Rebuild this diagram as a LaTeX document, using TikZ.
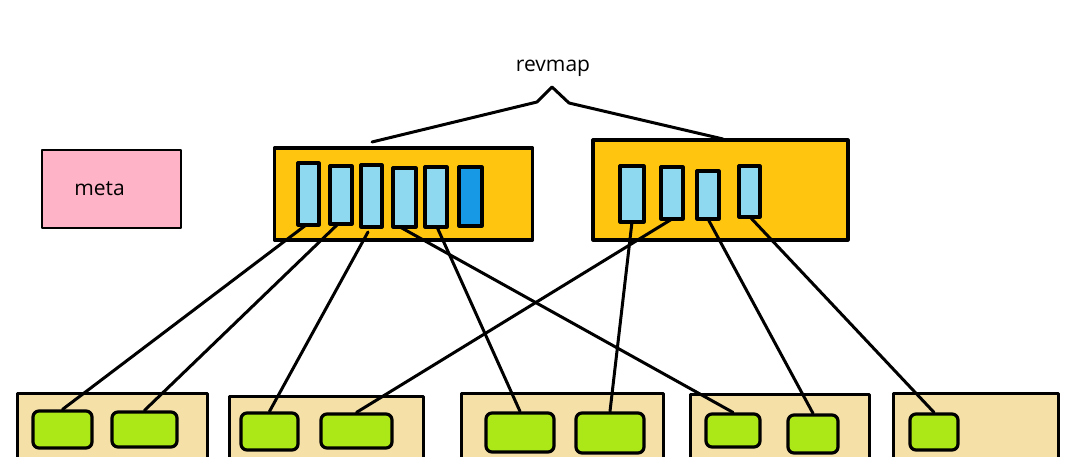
\documentclass[tikz,border=0pt]{standalone}
\usepackage{fontspec}
\setmainfont{Open Sans}
\definecolor{cgold}{HTML}{FFC50F}
\definecolor{cpink}{HTML}{FFB3C6}
\definecolor{cbeige}{HTML}{F5E1A8}
\definecolor{cleaf}{HTML}{ACE817}
\definecolor{cslot}{HTML}{8ED8F0}
\definecolor{cdark}{HTML}{1899E6}
\begin{document}
\begin{tikzpicture}[x=1pt,y=-1pt,line join=round,line cap=round,
 orange/.style={draw=black,fill=cgold,line width=3.2pt},
 slot/.style={draw=black,fill=cslot,line width=3.2pt},
 page/.style={draw=black,fill=cbeige,line width=3pt},
 leaf/.style={draw=black,fill=cleaf,line width=3.2pt,rounded corners=6pt},
 conn/.style={line width=3pt}]
\useasboundingbox (0,0) rectangle (1088,457);
\fill[white] (0,0) rectangle (1088,457);
\node[draw=black,fill=cpink,line width=2.8pt,minimum width=139pt,minimum height=78pt,inner sep=0pt] (meta) at (111.5,189) {\hspace*{-24pt}\fontsize{21}{25}\selectfont meta};
\node[font=\fontsize{21}{25}\selectfont] (rev) at (553,68) {revmap};
\node[orange,minimum width=258pt,minimum height=92pt,inner sep=0pt] (L) at (403.5,194) {};
\node[orange,minimum width=255pt,minimum height=100pt,inner sep=0pt] (R) at (720.5,190) {};
% left slots
\foreach \n/\a/\b/\t/\u in {l1/298/319/163/225,l2/330/352/166/224,l3/361/382/165/227,l4/393/416/168/227,l5/425/447/167/227}
  \draw[slot] (\a,\t) rectangle (\b,\u) coordinate (\n);
\draw[slot,fill=cdark] (459,167) rectangle (482,226);
\foreach \n/\a/\b/\t/\u in {r1/620/644/166/222,r2/661/683/167/219,r3/697/719/171/219,r4/739/760/166/217}
  \draw[slot] (\a,\t) rectangle (\b,\u) coordinate (\n);
% bracket
\coordinate (bl) at (372,142); \coordinate (br) at (723,139);
\draw[conn] (bl) -- (537,102) -- (552,87) -- (569,103) -- (br);
% pages
\foreach \a/\b/\t in {17/207/393,229/423/396,461/663/393,690/869/394,893/1058/393}
  \draw[page] (\a,465) -- (\a,\t) -- (\b,\t) -- (\b,465);
\foreach \n/\a/\b/\t/\u in {g1/33/92/411/448,g2/112/177/412/447,g3/241/298/413/450,g4/321/392/414/448,g5/486/554/413/452,g6/576/644/413/453,g7/706/760/414/447,g8/788/838/415/453,g9/910/958/414/450}
  \node[leaf,minimum width=\b pt-\a pt,minimum height=\u pt-\t pt,inner sep=0pt] (\n) at ({(\a+\b)/2},{(\t+\u)/2}) {};
% connectors
\coordinate (c1) at (306,225); \coordinate (c2) at (338,224); \coordinate (c3) at (368,232);
\coordinate (c4) at (400,227); \coordinate (c5) at (437,227);
\coordinate (d1) at (632,222); \coordinate (d2) at (672,219); \coordinate (d3) at (708,219); \coordinate (d4) at (750,217);
\draw[conn] (c1) -- (g1.north);
\draw[conn] (c2) -- (g2.north);
\draw[conn] (c3) -- (g3.north);
\draw[conn] (c4) -- (g7.north);
\draw[conn] (c5) -- (g5.north);
\draw[conn] (d1) -- (g6.north);
\draw[conn] (d2) -- (g4.north);
\draw[conn] (d3) -- (g8.north);
\draw[conn] (d4) -- (g9.north);
\end{tikzpicture}
\end{document}
